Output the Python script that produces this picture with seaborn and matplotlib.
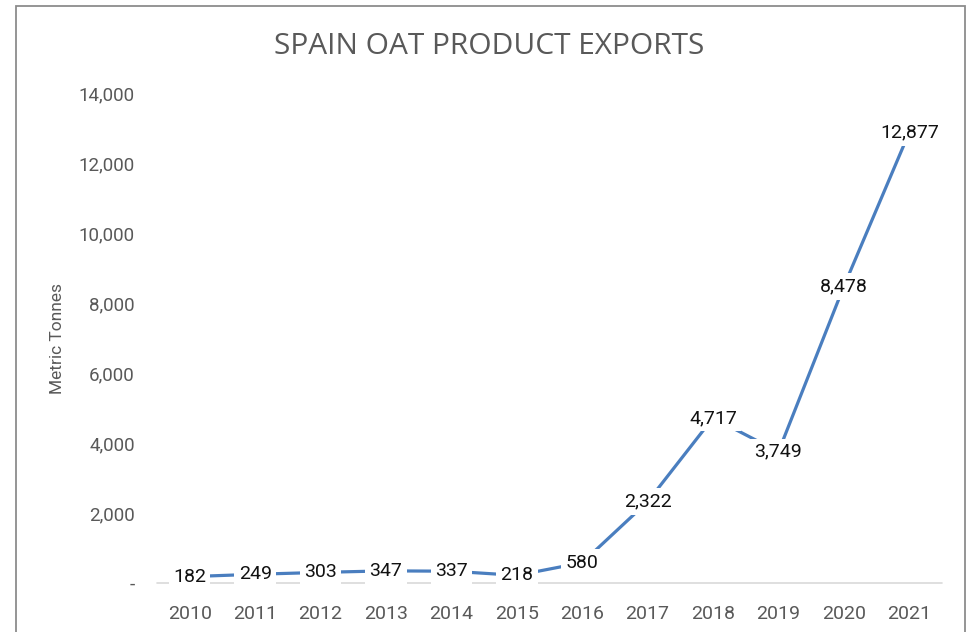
import matplotlib
matplotlib.use("Agg")
import matplotlib.pyplot as plt
import seaborn as sns
import pandas as pd
from matplotlib.patches import Rectangle

years = ["2010", "2011", "2012", "2013", "2014", "2015", "2016", "2017", "2018", "2019", "2020", "2021"]
exports = [182, 249, 303, 347, 337, 218, 580, 2322, 4717, 3749, 8478, 12877]
y_ticks = [0, 2000, 4000, 6000, 8000, 10000, 12000, 14000]
y_tick_labels = ["-", "2,000", "4,000", "6,000", "8,000", "10,000", "12,000", "14,000"]
title = "SPAIN OAT PRODUCT EXPORTS"
y_label = "Metric Tonnes"

sns.set_theme(style="white")
plt.rcParams["font.family"] = ["Roboto", "DejaVu Sans"]

df = pd.DataFrame({"idx": range(len(years)), "year": years, "value": exports})

fig = plt.figure(figsize=(9.72, 6.32), dpi=100)
ax = fig.add_axes([157 / 972, 1 - 583 / 632, (942 - 157) / 972, (583 - 93) / 632])

sns.lineplot(data=df, x="idx", y="value", ax=ax, color="#4a7ebf", linewidth=2.3, zorder=3)

ax.axhline(0, color="#d9d9d9", linewidth=1.2, zorder=1, clip_on=False)

for i, v in zip(df["idx"], df["value"]):
    ax.text(i, v, f"{v:,}", ha="center", va="center", fontsize=14, color="#111111",
            zorder=5, bbox=dict(boxstyle="square,pad=0.22", facecolor="white", edgecolor="none"))

ax.set_xlim(-0.5, len(years) - 0.5)
ax.set_ylim(0, 14000)
ax.set_xticks(range(len(years)))
ax.set_xticklabels(years)
ax.set_yticks(y_ticks)
ax.set_yticklabels(y_tick_labels)
ax.tick_params(axis="x", length=0, pad=16, labelsize=14, labelcolor="#595959")
ax.tick_params(axis="y", length=0, pad=16, labelsize=13.5, labelcolor="#595959")
for s in ax.spines.values():
    s.set_visible(False)
ax.set_xlabel("")
ax.set_ylabel(y_label, fontsize=12.5, color="#595959", labelpad=10)

fig.text(0.503, 1 - 46 / 632, title, ha="center", va="center", fontsize=21.5, color="#595959",
         family=["Open Sans", "DejaVu Sans"])

fig.patches.append(Rectangle((16 / 972, -0.1), (965 - 16) / 972, 1.1 - 6 / 632,
                             transform=fig.transFigure, fill=False, edgecolor="#8c8c8c",
                             linewidth=1.3, zorder=0))

fig.savefig("out.png", dpi=100)
